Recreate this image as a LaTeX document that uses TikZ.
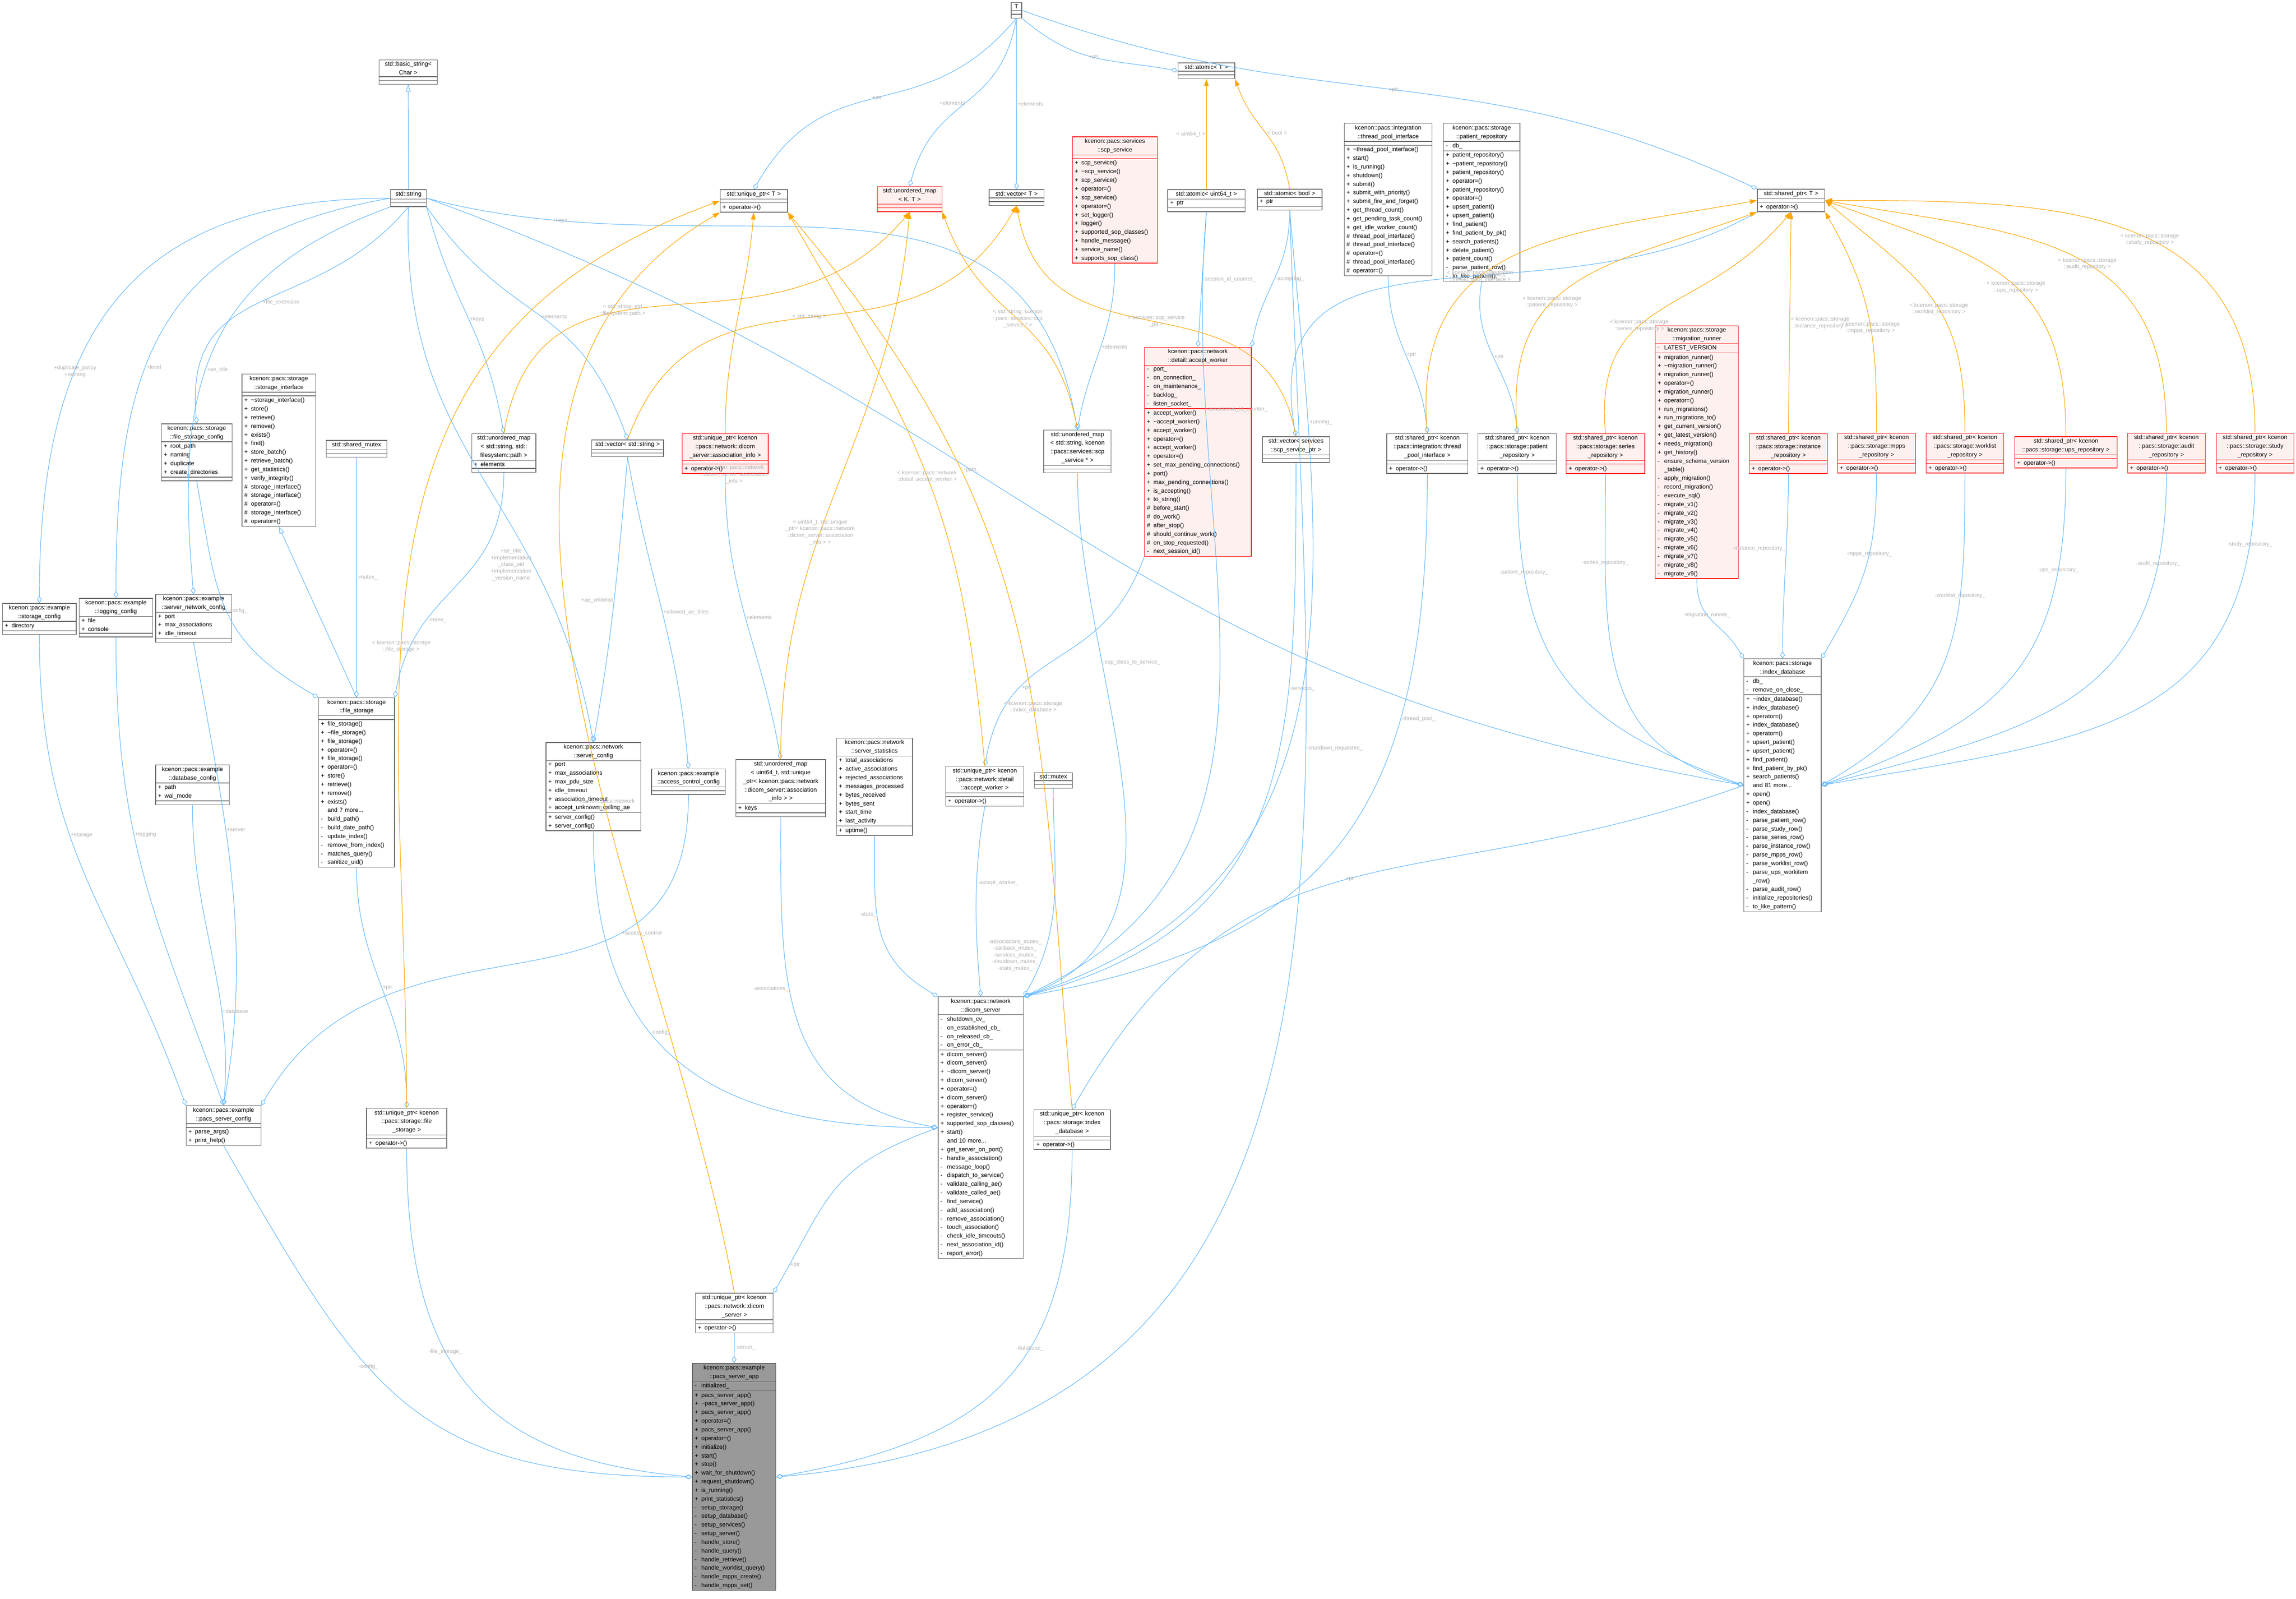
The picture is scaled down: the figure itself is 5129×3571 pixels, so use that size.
\documentclass[tikz,border=0pt]{standalone}
\usepackage{fontspec}
\setmainfont{Liberation Sans}
\usetikzlibrary{shapes.multipart, arrows.meta, positioning, calc}
\definecolor{edgeblue}{HTML}{63B8FF}
\definecolor{edgeorange}{HTML}{FFA500}
\definecolor{boxgray}{HTML}{666666}
\definecolor{redfill}{HTML}{FFF0F0}
\definecolor{lblgray}{HTML}{B0B0B0}
\newcommand\mpub{\makebox[1.1em][l]{+}}
\newcommand\mpri{\makebox[1.1em][l]{-}}
\newcommand\mpro{\makebox[1.1em][l]{\#}}
\newcommand\mnone{\makebox[1.1em][l]{}}
\newcommand\ptwo{\par\nodepart{two}}
\tikzset{
  cls/.style={rectangle split, rectangle split parts=3, rectangle split ignore empty parts=false,
    rectangle split empty part height=7pt, draw=boxgray, line width=0.8pt, fill=white,
    anchor=north west, text width=#1, inner xsep=3pt, inner ysep=2pt,
    font=\fontsize{7.6}{11}\selectfont},
  hot/.style={draw=red, fill=redfill},
  app/.style={fill=black!40},
  agg/.style={draw=edgeblue, line width=0.7pt, {Diamond[open,length=9pt,width=6pt]}-},
  inh/.style={draw=edgeblue, line width=0.7pt, -{Triangle[open,length=9pt,width=6pt]}},
  tpl/.style={draw=edgeorange, line width=0.7pt, -{Triangle[length=9pt,width=6pt]}},
  lbl/.style={font=\fontsize{7}{8.5}\selectfont, text=lblgray, align=center, inner sep=1pt},
  cv/.style 2 args={to path={let \p1=($(\tikztotarget)-(\tikztostart)$),
    \n1={0.35*(abs(\x1)+abs(\y1))} in .. controls +(#1:\n1) and +(#2:\n1) .. (\tikztotarget) \tikztonodes}},
}
\begin{document}
\catcode`\_=12
\begin{tikzpicture}[x=0.02cm, y=-0.02cm]
\useasboundingbox (0,0) rectangle (5129,3571);

% templates
\node[cls=0.26cm] (T) at (2258,5) {\centering T\ptwo\nodepart{three}};
\node[cls=2.4cm] (bstr) at (846,133) {\centering std::basic_string<\\ Char >\ptwo\nodepart{three}};
\node[cls=1.38cm] (str) at (872,423) {\centering std::string\ptwo\nodepart{three}};
\node[cls=2.8cm] (upT) at (1608,423) {\centering std::unique_ptr< T >\ptwo\nodepart{three}\mpub operator->()};
\node[cls=2.68cm, hot] (umKT) at (1959,416) {\centering std::unordered_map\\< K, T >\ptwo\nodepart{three}};
\node[cls=2.24cm] (vT) at (2209,423) {\centering std::vector< T >\ptwo\nodepart{three}};
\node[cls=2.32cm] (atT) at (2631,140) {\centering std::atomic< T >\ptwo\nodepart{three}};
\node[cls=3.24cm] (at64) at (2608,423) {\centering std::atomic< uint64_t >\ptwo\mpub ptr\nodepart{three}};
\node[cls=2.68cm] (atb) at (2808,422) {\centering std::atomic< bool >\ptwo\mpub ptr\nodepart{three}};
\node[cls=2.8cm] (shT) at (3925,422) {\centering std::shared_ptr< T >\ptwo\nodepart{three}\mpub operator->()};

% services and workers
\node[cls=3.58cm, hot] (scp) at (2395,305) {\centering kcenon::pacs::services\\::scp_service\ptwo\nodepart{three}
\mpub scp_service()\\\mpub \textasciitilde scp_service()\\\mpub scp_service()\\\mpub operator=()\\\mpub scp_service()\\\mpub operator=()\\\mpub set_logger()\\\mpub logger()\\\mpub supported_sop_classes()\\\mpub handle_message()\\\mpub service_name()\\\mpub supports_sop_class()};
\node[cls=3.72cm] (tpi) at (3002,275) {\centering kcenon::pacs::integration\\::thread_pool_interface\ptwo\nodepart{three}
\mpub \textasciitilde thread_pool_interface()\\\mpub start()\\\mpub is_running()\\\mpub shutdown()\\\mpub submit()\\\mpub submit_with_priority()\\\mpub submit_fire_and_forget()\\\mpub get_thread_count()\\\mpub get_pending_task_count()\\\mpub get_idle_worker_count()\\\mpro thread_pool_interface()\\\mpro thread_pool_interface()\\\mpro operator=()\\\mpro thread_pool_interface()\\\mpro operator=()};
\node[cls=3.2cm] (prp) at (3224,275) {\centering kcenon::pacs::storage\\::patient_repository\ptwo\mpri db_\nodepart{three}
\mpub patient_repository()\\\mpub \textasciitilde patient_repository()\\\mpub patient_repository()\\\mpub operator=()\\\mpub patient_repository()\\\mpub operator=()\\\mpub upsert_patient()\\\mpub upsert_patient()\\\mpub find_patient()\\\mpub find_patient_by_pk()\\\mpub search_patients()\\\mpub delete_patient()\\\mpub patient_count()\\\mpri parse_patient_row()\\\mpri to_like_pattern()};
\node[cls=4.56cm, hot] (aw) at (2556,775) {\centering kcenon::pacs::network\\::detail::accept_worker\ptwo\mpri port_\\\mpri on_connection_\\\mpri on_maintenance_\\\mpri backlog_\\\mpri listen_socket_\nodepart{three}
\mpub accept_worker()\\\mpub \textasciitilde accept_worker()\\\mpub accept_worker()\\\mpub operator=()\\\mpub accept_worker()\\\mpub operator=()\\\mpub set_max_pending_connections()\\\mpub port()\\\mpub max_pending_connections()\\\mpub is_accepting()\\\mpub to_string()\\\mpro before_start()\\\mpro do_work()\\\mpro after_stop()\\\mpro should_continue_work()\\\mpro on_stop_requested()\\\mpri next_session_id()};
\node[cls=3.5cm, hot] (mig) at (3697,727) {\centering kcenon::pacs::storage\\::migration_runner\ptwo\mpri LATEST_VERSION\nodepart{three}
\mpub migration_runner()\\\mpub \textasciitilde migration_runner()\\\mpub migration_runner()\\\mpub operator=()\\\mpub migration_runner()\\\mpub operator=()\\\mpub run_migrations()\\\mpub run_migrations_to()\\\mpub get_current_version()\\\mpub get_latest_version()\\\mpub needs_migration()\\\mpub get_history()\\\mpri ensure_schema_version\\\mnone _table()\\\mpri apply_migration()\\\mpri record_migration()\\\mpri execute_sql()\\\mpri migrate_v1()\\\mpri migrate_v2()\\\mpri migrate_v3()\\\mpri migrate_v4()\\\mpri migrate_v5()\\\mpri migrate_v6()\\\mpri migrate_v7()\\\mpri migrate_v8()\\\mpri migrate_v9()};

% instantiations
\node[cls=3.64cm, hot] (upai) at (1523,968) {\centering std::unique_ptr< kcenon\\::pacs::network::dicom\\_server::association_info >\ptwo\nodepart{three}\mpub operator->()};
\node[cls=2.8cm] (umscp) at (2331,960) {\centering std::unordered_map\\< std::string, kcenon\\::pacs::services::scp\\_service * >\ptwo\nodepart{three}};
\node[cls=2.8cm] (vscp) at (2819,975) {\centering std::vector< services\\::scp_service_ptr >\ptwo\nodepart{three}};
\node[cls=3.42cm] (shtpi) at (3097,968) {\centering std::shared_ptr< kcenon\\::pacs::integration::thread\\_pool_interface >\ptwo\nodepart{three}\mpub operator->()};
\node[cls=3.3cm] (shprp) at (3301,968) {\centering std::shared_ptr< kcenon\\::pacs::storage::patient\\_repository >\ptwo\nodepart{three}\mpub operator->()};
\node[cls=3.3cm, hot] (shser) at (3498,968) {\centering std::shared_ptr< kcenon\\::pacs::storage::series\\_repository >\ptwo\nodepart{three}\mpub operator->()};
\node[cls=3.28cm, hot] (shins) at (3907,968) {\centering std::shared_ptr< kcenon\\::pacs::storage::instance\\_repository >\ptwo\nodepart{three}\mpub operator->()};
\node[cls=3.28cm, hot] (shmpps) at (4104,967) {\centering std::shared_ptr< kcenon\\::pacs::storage::mpps\\_repository >\ptwo\nodepart{three}\mpub operator->()};
\node[cls=3.26cm, hot] (shwl) at (4302,967) {\centering std::shared_ptr< kcenon\\::pacs::storage::worklist\\_repository >\ptwo\nodepart{three}\mpub operator->()};
\node[cls=4.36cm, hot] (shups) at (4500,975) {\centering std::shared_ptr< kcenon\\::pacs::storage::ups_repository >\ptwo\nodepart{three}\mpub operator->()};
\node[cls=3.26cm, hot] (shaud) at (4752,967) {\centering std::shared_ptr< kcenon\\::pacs::storage::audit\\_repository >\ptwo\nodepart{three}\mpub operator->()};
\node[cls=3.26cm, hot] (shstu) at (4950,967) {\centering std::shared_ptr< kcenon\\::pacs::storage::study\\_repository >\ptwo\nodepart{three}\mpub operator->()};

% storage side
\node[cls=3.08cm] (sic) at (540,835) {\centering kcenon::pacs::storage\\::storage_interface\ptwo\nodepart{three}
\mpub \textasciitilde storage_interface()\\\mpub store()\\\mpub retrieve()\\\mpub remove()\\\mpub exists()\\\mpub find()\\\mpub store_batch()\\\mpub retrieve_batch()\\\mpub get_statistics()\\\mpub verify_integrity()\\\mpro storage_interface()\\\mpro storage_interface()\\\mpro operator=()\\\mpro storage_interface()\\\mpro operator=()};
\node[cls=2.94cm] (fsc) at (360,946) {\centering kcenon::pacs::storage\\::file_storage_config\ptwo\mpub root_path\\\mpub naming\\\mpub duplicate\\\mpub create_directories\nodepart{three}};
\node[cls=2.5cm] (smx) at (728,983) {\centering std::shared_mutex\ptwo\nodepart{three}};
\node[cls=2.66cm] (ump) at (1053,968) {\centering std::unordered_map\\< std::string, std::\\filesystem::path >\ptwo\mpub elements\nodepart{three}};
\node[cls=3.0cm] (vstr) at (1321,982) {\centering std::vector< std::string >\ptwo\nodepart{three}};
\node[cls=3.08cm] (stc) at (5,1347) {\centering kcenon::pacs::example\\::storage_config\ptwo\mpub directory\nodepart{three}};
\node[cls=3.08cm] (lgc) at (176,1336) {\centering kcenon::pacs::example\\::logging_config\ptwo\mpub file\\\mpub console\nodepart{three}};
\node[cls=3.18cm] (snc) at (347,1327) {\centering kcenon::pacs::example\\::server_network_config\ptwo\mpub port\\\mpub max_associations\\\mpub idle_timeout\nodepart{three}};
\node[cls=3.08cm] (dbc) at (347,1708) {\centering kcenon::pacs::example\\::database_config\ptwo\mpub path\\\mpub wal_mode\nodepart{three}};
\node[cls=3.18cm] (fs) at (711,1558) {\centering kcenon::pacs::storage\\::file_storage\ptwo\nodepart{three}
\mpub file_storage()\\\mpub \textasciitilde file_storage()\\\mpub file_storage()\\\mpub operator=()\\\mpub file_storage()\\\mpub operator=()\\\mpub store()\\\mpub retrieve()\\\mpub remove()\\\mpub exists()\\\mnone and 7 more...\\\mpri build_path()\\\mpri build_date_path()\\\mpri update_index()\\\mpri remove_from_index()\\\mpri matches_query()\\\mpri sanitize_uid()};
\node[cls=3.14cm] (psc) at (415,2469) {\centering kcenon::pacs::example\\::pacs_server_config\ptwo\nodepart{three}\mpub parse_args()\\\mpub print_help()};
\node[cls=3.38cm] (upfs) at (818,2475) {\centering std::unique_ptr< kcenon\\::pacs::storage::file\\_storage >\ptwo\nodepart{three}\mpub operator->()};

% network side
\node[cls=4.02cm] (scfg) at (1219,1658) {\centering kcenon::pacs::network\\::server_config\ptwo\mpub port\\\mpub max_associations\\\mpub max_pdu_size\\\mpub idle_timeout\\\mpub association_timeout\\\mpub accept_unknown_calling_ae\nodepart{three}\mpub server_config()\\\mpub server_config()};
\node[cls=3.08cm] (acc) at (1455,1717) {\centering kcenon::pacs::example\\::access_control_config\ptwo\nodepart{three}};
\node[cls=3.8cm] (umai) at (1643,1696) {\centering std::unordered_map\\< uint64_t, std::unique\\_ptr< kcenon::pacs::network\\::dicom_server::association\\_info > >\ptwo\mpub keys\nodepart{three}};
\node[cls=3.18cm] (sst) at (1868,1648) {\centering kcenon::pacs::network\\::server_statistics\ptwo\mpub total_associations\\\mpub active_associations\\\mpub rejected_associations\\\mpub messages_processed\\\mpub bytes_received\\\mpub bytes_sent\\\mpub start_time\\\mpub last_activity\nodepart{three}\mpub uptime()};
\node[cls=3.28cm] (upaw) at (2112,1711) {\centering std::unique_ptr< kcenon\\::pacs::network::detail\\::accept_worker >\ptwo\nodepart{three}\mpub operator->()};
\node[cls=1.48cm] (mtx) at (2310,1725) {\centering std::mutex\ptwo\nodepart{three}};
\node[cls=3.6cm] (ds) at (2095,2226) {\centering kcenon::pacs::network\\::dicom_server\ptwo\mpri shutdown_cv_\\\mpri on_established_cb_\\\mpri on_released_cb_\\\mpri on_error_cb_\nodepart{three}
\mpub dicom_server()\\\mpub dicom_server()\\\mpub \textasciitilde dicom_server()\\\mpub dicom_server()\\\mpub operator=()\\\mpub dicom_server()\\\mpub operator=()\\\mpub register_service()\\\mpub supported_sop_classes()\\\mpub start()\\\mnone and 10 more...\\\mpub get_server_on_port()\\\mpri handle_association()\\\mpri message_loop()\\\mpri dispatch_to_service()\\\mpri validate_calling_ae()\\\mpri validate_called_ae()\\\mpri find_service()\\\mpri add_association()\\\mpri remove_association()\\\mpri touch_association()\\\mpri check_idle_timeouts()\\\mpri next_association_id()\\\mpri report_error()};
\node[cls=3.26cm] (upds) at (1553,2888) {\centering std::unique_ptr< kcenon\\::pacs::network::dicom\\_server >\ptwo\nodepart{three}\mpub operator->()};
\node[cls=3.2cm] (upidx) at (2309,2478) {\centering std::unique_ptr< kcenon\\::pacs::storage::index\\_database >\ptwo\nodepart{three}\mpub operator->()};
\node[cls=3.24cm] (idx) at (3895,1471) {\centering kcenon::pacs::storage\\::index_database\ptwo\mpri db_\\\mpri remove_on_close_\nodepart{three}
\mpub \textasciitilde index_database()\\\mpub index_database()\\\mpub operator=()\\\mpub index_database()\\\mpub operator=()\\\mpub upsert_patient()\\\mpub upsert_patient()\\\mpub find_patient()\\\mpub find_patient_by_pk()\\\mpub search_patients()\\\mnone and 81 more...\\\mpub open()\\\mpub open()\\\mpri index_database()\\\mpri parse_patient_row()\\\mpri parse_study_row()\\\mpri parse_series_row()\\\mpri parse_instance_row()\\\mpri parse_mpps_row()\\\mpri parse_worklist_row()\\\mpri parse_ups_workitem\\\mnone _row()\\\mpri parse_audit_row()\\\mpri initialize_repositories()\\\mpri to_like_pattern()};
\node[cls=3.52cm, app] (app) at (1546,3045) {\centering kcenon::pacs::example\\::pacs_server_app\ptwo\mpri initialized_\nodepart{three}
\mpub pacs_server_app()\\\mpub \textasciitilde pacs_server_app()\\\mpub pacs_server_app()\\\mpub operator=()\\\mpub pacs_server_app()\\\mpub operator=()\\\mpub initialize()\\\mpub start()\\\mpub stop()\\\mpub wait_for_shutdown()\\\mpub request_shutdown()\\\mpub is_running()\\\mpub print_statistics()\\\mpri setup_storage()\\\mpri setup_database()\\\mpri setup_services()\\\mpri setup_server()\\\mpri handle_store()\\\mpri handle_query()\\\mpri handle_retrieve()\\\mpri handle_worklist_query()\\\mpri handle_mpps_create()\\\mpri handle_mpps_set()};

% inheritance
\draw[inh] (str.north) -- (bstr.south);
\draw[inh] (fs.north) to (sic.south);

% members of T
\draw[agg] (upT.north) to[cv={60}{-130}] node[lbl]{+ptr} (T.south);
\draw[agg] (umKT.north) to[cv={75}{-100}] node[lbl,left]{+elements} (T.south);
\draw[agg] (vT.north) -- node[lbl,right]{+elements} (T.south);
\draw[agg] (atT.west) to[cv={170}{-40}] node[lbl]{+ptr} (T.south east);
\draw[agg] (shT.north west) to[cv={155}{-20}] node[lbl]{+ptr} (T.east);

% members of std::string
\draw[agg] (stc.north) to[cv={90}{180}] node[lbl,pos=0.35]{+duplicate_policy\\+naming} (str.west);
\draw[agg] (lgc.north) to[cv={90}{190}] node[lbl,right,pos=0.4]{+level} (str.west);
\draw[agg] (snc.north) to[cv={95}{200}] node[lbl,right,pos=0.45]{+ae_title} (str.south west);
\draw[agg] (fsc.north) to[cv={95}{-130}] node[lbl,right]{+file_extension} (str.south);
\draw[agg] (scfg.north) to[cv={100}{-92}] node[lbl,pos=0.3,left]{+ae_title\\+implementation\\_class_uid\\+implementation\\_version_name} (str.south);
\draw[agg] (ump.north) to[cv={100}{-75}] node[lbl,right]{+keys} (str.south east);
\draw[agg] (vstr.north) to[cv={110}{-55}] node[lbl,right]{+elements} (str.south east);
\draw[agg] (umscp.north) to[cv={100}{-15}] node[lbl,pos=0.85]{+keys} (str.east);
\draw[agg] (idx.west) to[cv={170}{-20}] node[lbl,pos=0.6]{-path_} (str.east);

% pacs_server_config
\draw[agg] (psc.north west) to[cv={110}{-90}] node[lbl,right,pos=0.6]{+storage} (stc.south);
\draw[agg] (psc.north) to[cv={110}{-90}] node[lbl,right,pos=0.6]{+logging} (lgc.south);
\draw[agg] (psc.north) to[cv={80}{-80}] node[lbl,right,pos=0.6]{+server} (snc.south);
\draw[agg] (psc.north) to[cv={85}{-90}] node[lbl,right,pos=0.3]{+database} (dbc.south);
\draw[agg] (psc.north east) to[cv={60}{-90}] node[lbl,right,pos=0.7]{+access_control} (acc.south);

% file_storage
\draw[agg] (fs.north west) to[cv={150}{-80}] node[lbl,right]{-config_} (fsc.south);
\draw[agg] (fs.north) -- node[lbl,right]{-mutex_} (smx.south);
\draw[agg] (fs.north east) to[cv={80}{-90}] node[lbl,right,pos=0.3]{-index_} (ump.south);
\draw[agg] (upfs.north) to[cv={90}{-90}] node[lbl,right]{+ptr} (fs.south);

% network members
\draw[agg] (scfg.north) to[cv={80}{-95}] node[lbl,left,pos=0.5]{+ae_whitelist} (vstr.south);
\draw[agg] (acc.north) to[cv={95}{-80}] node[lbl,right,pos=0.5]{+allowed_ae_titles} (vstr.south);
\draw[agg] (umai.north) to[cv={100}{-90}] node[lbl,right]{+elements} (upai.south);
\draw[agg] (umscp.north) to[cv={80}{-90}] node[lbl,right]{+elements} (scp.south);
\draw[agg] (aw.north) -- node[lbl,right]{-session_id_counter_} (at64.south);
\draw[agg] (aw.north east) to[cv={80}{-90}] node[lbl,right]{-accepting_} (atb.south);
\draw[agg] (upaw.north) to[cv={80}{-110}] node[lbl,right,pos=0.3]{+ptr} (aw.south west);
\draw[agg] (vscp.north) to[cv={100}{-150}] node[lbl,pos=0.6]{+elements} (shT.south west);
\draw[agg] (shtpi.north) to[cv={95}{-90}] node[lbl,right]{+ptr} (tpi.south);
\draw[agg] (shprp.north) to[cv={95}{-100}] node[lbl,right]{+ptr} (prp.south);

% dicom_server members
\draw[agg] (ds.west) to[cv={180}{-90}] node[lbl,right,pos=0.6]{-config_} (scfg.south);
\draw[agg] (ds.west) to[cv={170}{-90}] node[lbl,left,pos=0.6]{-associations_} (umai.south);
\draw[agg] (ds.north west) to[cv={150}{-90}] node[lbl,left,pos=0.6]{-stats_} (sst.south);
\draw[agg] (ds.north) to[cv={95}{-100}] node[lbl,right,pos=0.6]{-accept_worker_} (upaw.south);
\draw[agg] (ds.north east) to[cv={60}{-90}] node[lbl,left,pos=0.2]{-associations_mutex_\\-callback_mutex_\\-services_mutex_\\-shutdown_mutex_\\-stats_mutex_} (mtx.south);
\draw[agg] (ds.north east) to[cv={20}{-90}] node[lbl,right,pos=0.7]{-sop_class_to_service_} (umscp.south);
\draw[agg] (ds.north east) to[cv={15}{-90}] node[lbl,right,pos=0.7]{-services_} (vscp.south);
\draw[agg] (ds.north east) to[cv={10}{-90}] node[lbl,right,pos=0.7]{-thread_pool_} (shtpi.south);
\draw[agg] (ds.north east) to[cv={25}{-95}] node[lbl,right,pos=0.8]{-association_id_counter_} (at64.south);
\draw[agg] (ds.north east) to[cv={18}{-85}] node[lbl,right,pos=0.8]{-running_} (atb.south);
\draw[agg] (upds.north east) to[cv={60}{200}] node[lbl,right,pos=0.1]{+ptr} (ds.west);

% index_database members
\draw[agg] (idx.west) to[cv={160}{-90}] node[lbl,pos=0.8]{-patient_repository_} (shprp.south);
\draw[agg] (idx.west) to[cv={165}{-90}] node[lbl,pos=0.8]{-series_repository_} (shser.south);
\draw[agg] (idx.north west) to[cv={120}{-90}] node[lbl,pos=0.6]{-migration_runner_} (mig.south);
\draw[agg] (idx.north) to[cv={90}{-90}] node[lbl,left,pos=0.6]{-instance_repository_} (shins.south);
\draw[agg] (idx.north east) to[cv={60}{-90}] node[lbl,pos=0.6]{-mpps_repository_} (shmpps.south);
\draw[agg] (idx.east) to[cv={30}{-90}] node[lbl,pos=0.7]{-worklist_repository_} (shwl.south);
\draw[agg] (idx.east) to[cv={20}{-90}] node[lbl,pos=0.8]{-ups_repository_} (shups.south);
\draw[agg] (idx.east) to[cv={15}{-90}] node[lbl,pos=0.85]{-audit_repository_} (shaud.south);
\draw[agg] (idx.east) to[cv={10}{-90}] node[lbl,pos=0.9]{-study_repository_} (shstu.south);
\draw[agg] (upidx.north) to[cv={60}{200}] node[lbl,pos=0.5]{+ptr} (idx.west);

% pacs_server_app members
\draw[agg] (app.north) -- node[lbl,right]{-server_} (upds.south);
\draw[agg] (app.east) to[cv={10}{-90}] node[lbl,pos=0.6]{-database_} (upidx.south);
\draw[agg] (app.west) to[cv={180}{-60}] node[lbl,pos=0.6]{-config_} (psc.south);
\draw[agg] (app.west) to[cv={175}{-90}] node[lbl,pos=0.6]{-file_storage_} (upfs.south);
\draw[agg] (app.east) to[cv={5}{-88}] node[lbl,right,pos=0.7]{-shutdown_requested_} (atb.south);

% template instantiations
\draw[tpl] (upai.north) to[cv={90}{-95}] (upT.south);
\draw[tpl] (upaw.north) to[cv={95}{-60}] node[lbl,pos=0.5]{< kcenon::pacs::network\\::detail::accept_worker >} (upT.south east);
\draw[tpl] (upds.north) to[cv={100}{-150}] node[lbl,pos=0.4]{< kcenon::pacs::network\\::dicom_server >} (upT.south west);
\draw[tpl] (upfs.north) to[cv={90}{-160}] node[lbl,pos=0.4]{< kcenon::pacs::storage\\::file_storage >} (upT.west);
\draw[tpl] (upidx.north) to[cv={95}{-50}] node[lbl,pos=0.4]{< kcenon::pacs::storage\\::index_database >} (upT.south east);
\draw[tpl] (ump.north) to[cv={80}{-130}] node[lbl,pos=0.4]{< std::string, std\\::filesystem::path >} (umKT.south);
\draw[tpl] (umai.north) to[cv={90}{-95}] node[lbl,pos=0.4]{< uint64_t, std::unique\\_ptr< kcenon::pacs::network\\::dicom_server::association\\_info > >} (umKT.south);
\draw[tpl] (umscp.north) to[cv={100}{-70}] node[lbl,pos=0.5]{< std::string, kcenon\\::pacs::services::scp\\_service * >} (umKT.south east);
\draw[tpl] (vstr.north) to[cv={70}{-120}] node[lbl,pos=0.5]{< std::string >} (vT.south);
\draw[tpl] (vscp.north) to[cv={100}{-80}] node[lbl,pos=0.5]{< services::scp_service\\_ptr >} (vT.south);
\draw[tpl] (at64.north) -- node[lbl,left]{< uint64_t >} (atT.south);
\draw[tpl] (atb.north) to[cv={100}{-70}] node[lbl,right]{< bool >} (atT.south east);
\draw[tpl] (shtpi.north) to[cv={95}{190}] node[lbl,pos=0.4]{< kcenon::pacs::integration\\::thread_pool_interface >} (shT.west);
\draw[tpl] (shprp.north) to[cv={95}{-160}] node[lbl,pos=0.4]{< kcenon::pacs::storage\\::patient_repository >} (shT.south west);
\draw[tpl] (shser.north) to[cv={95}{-130}] node[lbl,pos=0.4]{< kcenon::pacs::storage\\::series_repository >} (shT.south);
\draw[tpl] (shins.north) -- node[lbl,right]{< kcenon::pacs::storage\\::instance_repository >} (shT.south);
\draw[tpl] (shmpps.north) to[cv={90}{-60}] node[lbl,pos=0.45]{< kcenon::pacs::storage\\::mpps_repository >} (shT.south east);
\draw[tpl] (shwl.north) to[cv={90}{-40}] node[lbl,pos=0.45]{< kcenon::pacs::storage\\::worklist_repository >} (shT.east);
\draw[tpl] (shups.north) to[cv={90}{-20}] node[lbl,pos=0.45]{< kcenon::pacs::storage\\::ups_repository >} (shT.east);
\draw[tpl] (shaud.north) to[cv={90}{-10}] node[lbl,pos=0.45]{< kcenon::pacs::storage\\::audit_repository >} (shT.east);
\draw[tpl] (shstu.north) to[cv={90}{0}] node[lbl,pos=0.45]{< kcenon::pacs::storage\\::study_repository >} (shT.east);
\node[lbl] at (1640,1060) {< kcenon::pacs::network\\::dicom_server::association\\_info >};
\end{tikzpicture}
\end{document}
